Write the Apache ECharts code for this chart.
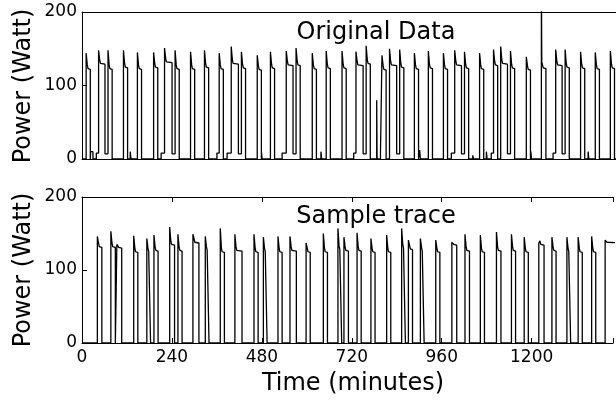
<!DOCTYPE html>
<html>
<head>
<meta charset="utf-8">
<script src="https://cdn.jsdelivr.net/npm/echarts@6/dist/echarts.min.js"></script>
<style>
html,body{margin:0;padding:0;background:#fff;}
#chart{width:616px;height:400px;}
</style>
</head>
<body>
<div id="chart"></div>
<script>
// ---------- data ----------
const xTicks = [0, 240, 480, 720, 960, 1200];
const yTicks = [0, 100, 200];

// Original data: pulse onsets (minutes), peak / plateau power (W), duration (min),
// level after the pulse (W), length of small pre-step before the pulse (min)
const topOn    = [11, 44, 69, 110, 147, 190, 219, 247, 288, 325, 364, 396, 423, 465, 500, 542, 568, 611, 648, 690, 727, 754, 796, 816, 843, 882, 919, 959, 989, 1015, 1055, 1092, 1111, 1137, 1179, 1219, 1257, 1282, 1323, 1362, 1402];
const topPeak  = [144, 148, 148, 148, 145, 145, 151, 148, 146, 148, 144, 153, 146, 141, 146, 147, 151, 144, 147, 147, 146, 154, 141, 150, 149, 144, 147, 144, 148, 146, 144, 149, 153, 147, 139, 250, 149, 149, 146, 145, 147];
const topPlat  = [123, 130, 123, 125, 123, 125, 132, 123, 123, 125, 123, 130, 124, 122, 124, 128, 128, 123, 124, 124, 128, 130, 122, 128, 125, 123, 124, 123, 128, 124, 123, 128, 130, 124, 122, 124, 128, 125, 124, 123, 124];
const topWidth = [11, 17, 11, 11, 11, 11, 20, 11, 11, 11, 11, 19, 11, 11, 11, 18, 11, 11, 11, 11, 19, 11, 11, 19, 11, 11, 11, 11, 18, 11, 11, 11, 18, 11, 11, 12, 17, 11, 11, 11, 11];
const topAfter = [0, 7, 0, 0, 0, 0, 7, 0, 0, 0, 0, 7, 0, 0, 0, 7, 0, 0, 0, 0, 7, 0, 0, 7, 0, 0, 0, 0, 7, 0, 0, 0, 7, 0, 0, 0, 7, 0, 0, 0, 0];
const topPre   = [0, 6, 0, 0, 0, 0, 9, 0, 0, 0, 6, 11, 0, 0, 0, 11, 0, 0, 0, 0, 6, 0, 4, 0, 0, 0, 0, 0, 9, 0, 0, 6, 0, 0, 0, 0, 7, 0, 0, 0, 0];
// small blips: [start, duration, power]
const topBlips = [[23, 6, 10], [128, 2, 10], [476, 2, 10], [634, 2, 10], [782, 1, 80], [896, 2, 12], [1037, 2, 5], [1073, 2, 10], [1191, 2, 10], [1343, 2, 10]];

// Sample trace
const botOn    = [41, 77, 93, 138, 173, 192, 234, 256, 296, 329, 369, 408, 459, 484, 523, 555, 598, 644, 683, 699, 734, 771, 813, 853, 871, 903, 944, 987, 1022, 1063, 1106, 1146, 1180, 1219, 1254, 1294, 1324, 1360, 1396];
const botPeak  = [146, 153, 135, 147, 143, 148, 159, 149, 149, 146, 157, 149, 149, 145, 146, 146, 137, 150, 157, 145, 151, 143, 148, 157, 141, 143, 141, 138, 149, 148, 152, 149, 145, 137, 145, 145, 145, 146, 141];
const botPlat  = [132, 132, 131, 125, 125, 127, 135, 127, 138, 127, 125, 127, 125, 125, 125, 127, 125, 125, 128, 127, 127, 125, 125, 130, 129, 126, 125, 135, 127, 125, 127, 127, 125, 135, 127, 125, 125, 125, 138];
const botWidth = [12, 12, 13, 11, 10, 11, 13, 11, 16, 10, 11, 19, 11, 10, 11, 17, 11, 11, 10, 12, 11, 11, 11, 10, 11, 10, 11, 13, 12, 11, 12, 11, 11, 14, 11, 10, 11, 11, 40];

// visible part of the time axis (the figure is cropped at the right edge)
const X_MAX = 1417;

// ---------- build line tables ----------
function buildTrace(on, peak, plat, width, after, pre, blips) {
  const ev = [];
  on.forEach((t, i) => ev.push({ t: t, i: i }));
  (blips || []).forEach(b => ev.push({ t: b[0], b: b }));
  ev.sort((a, b) => a.t - b.t);
  const pts = [[0, 0]];
  let lvl = 0;
  for (const e of ev) {
    if (e.b) {
      const [t, w, v] = e.b;
      pts.push([t, lvl], [t, v], [t + w, v], [t + w, lvl]);
      continue;
    }
    const i = e.i, t = on[i], p = plat[i];
    const pr = pre ? pre[i] : 0;
    if (pr) pts.push([t - pr, lvl], [t - pr, 8], [t, 8]);
    else pts.push([t, lvl]);
    pts.push([t, peak[i]]);
    if (peak[i] > 200) pts.push([t + 1, p + 8]);
    else pts.push([t + 3, p + 5]);
    pts.push([t + 5, p], [t + width[i], p - 1]);
    const a = after ? after[i] : 0;
    pts.push([t + width[i], a]);
    lvl = a;
  }
  pts.push([X_MAX + 50, lvl]);
  return pts;
}

const topData = buildTrace(topOn, topPeak, topPlat, topWidth, topAfter, topPre, topBlips);
const botData = buildTrace(botOn, botPeak, botPlat, botWidth, null, null, null);

// ---------- chart ----------
const FONT = 'DejaVu Sans';
const chart = echarts.init(document.getElementById('chart'), null, { renderer: 'canvas' });

const GL = 82, GW = 534;
const spine = { show: true, onZero: false, lineStyle: { color: '#000', width: 1 } };
const yAxisCommon = {
  type: 'value', min: 0, max: 200, interval: 100,
  axisLine: spine,
  axisTick: { show: true, inside: true, length: 5, lineStyle: { color: '#000' } },
  axisLabel: { show: true, color: '#000', fontFamily: FONT, fontSize: 17, margin: 5,
    formatter: v => (yTicks.indexOf(v) >= 0 ? String(v) : '') },
  splitLine: { show: false }
};
const plainX = (grid, pos, ticks) => ({
  type: 'value', gridIndex: grid, min: 0, max: X_MAX, interval: 240, position: pos,
  axisLine: spine,
  axisTick: { show: ticks, inside: true, length: 5, lineStyle: { color: '#000' } },
  axisLabel: { show: false }, splitLine: { show: false }
});

const BIG = '24px "DejaVu Sans"';
chart.setOption({
  animation: false,
  backgroundColor: '#fff',
  grid: [
    { left: GL, top: 12, width: GW, height: 147, show: false },
    { left: GL, top: 197, width: GW, height: 146, show: false }
  ],
  xAxis: [
    plainX(0, 'bottom', false),
    plainX(0, 'top', false),
    { type: 'value', gridIndex: 1, min: 0, max: X_MAX, interval: 240, position: 'bottom',
      axisLine: spine,
      axisTick: { show: true, inside: true, length: 5, lineStyle: { color: '#000' } },
      axisLabel: { color: '#000', fontFamily: FONT, fontSize: 17, margin: 6,
        formatter: v => (xTicks.indexOf(v) >= 0 ? String(v) : '') },
      splitLine: { show: false } },
    plainX(1, 'top', true)
  ],
  yAxis: [
    Object.assign({ gridIndex: 0 }, yAxisCommon),
    Object.assign({ gridIndex: 1 }, yAxisCommon)
  ],
  series: [
    { type: 'line', xAxisIndex: 0, yAxisIndex: 0, data: topData, showSymbol: false, symbol: 'none',
      clip: true, lineStyle: { color: '#000', width: 1.3 }, z: 3 },
    { type: 'line', xAxisIndex: 2, yAxisIndex: 1, data: botData, showSymbol: false, symbol: 'none',
      clip: true, lineStyle: { color: '#000', width: 1.3 }, z: 3 }
  ],
  graphic: [
    { type: 'text', x: 376, y: 33, style: { text: 'Original Data', fill: '#000', font: BIG, align: 'center', verticalAlign: 'middle' } },
    { type: 'text', x: 376, y: 217, style: { text: 'Sample trace', fill: '#000', font: BIG, align: 'center', verticalAlign: 'middle' } },
    { type: 'text', x: 353, y: 384, style: { text: 'Time (minutes)', fill: '#000', font: BIG, align: 'center', verticalAlign: 'middle' } },
    { type: 'text', x: 24, y: 86, rotation: Math.PI / 2, style: { text: 'Power (Watt)', fill: '#000', font: BIG, align: 'center', verticalAlign: 'middle' } },
    { type: 'text', x: 24, y: 270, rotation: Math.PI / 2, style: { text: 'Power (Watt)', fill: '#000', font: BIG, align: 'center', verticalAlign: 'middle' } }
  ]
});
</script>
</body>
</html>
